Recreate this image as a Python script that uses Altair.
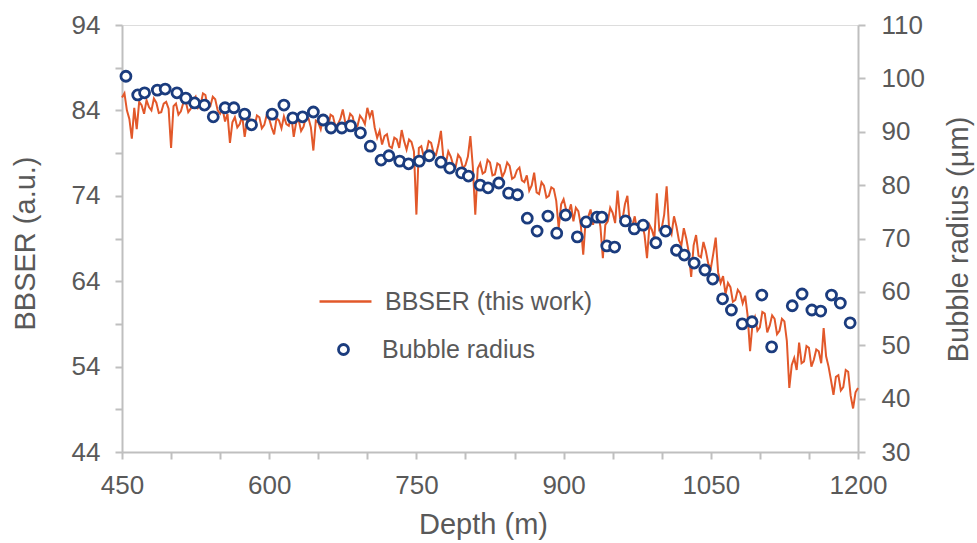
import altair as alt
import pandas as pd

# BBSER line: values every 2.5 m from 450 m to 1200 m
bbser = [
    85.5, 86.0, 84.0, 83.0, 80.7, 84.3, 81.8, 85.0, 84.6, 83.6,   # 450-472.5
    85.2, 84.4, 84.0, 85.4, 84.9, 83.7, 83.8, 84.8, 85.0, 84.2,   # 475-497.5
    79.6, 84.5, 84.8, 83.5, 83.9, 84.9, 85.0, 83.8, 84.2, 85.2,   # 500-522.5
    85.6, 84.3, 84.6, 86.0, 85.8, 84.2, 84.5, 85.6, 85.3, 84.0,   # 525-547.5
    83.6, 84.2, 82.7, 83.6, 80.2, 82.6, 83.2, 82.0, 82.4, 83.4,   # 550-572.5
    80.9, 82.8, 83.0, 81.8, 82.1, 83.4, 83.2, 81.9, 82.3, 83.5,   # 575-597.5
    83.0, 82.0, 81.2, 83.1, 82.8, 81.9, 83.3, 82.4, 82.2, 83.4,   # 600-622.5
    80.9, 82.6, 82.9, 81.6, 82.1, 83.3, 83.1, 82.0, 79.3, 82.8,   # 625-647.5
    82.6, 81.8, 83.2, 82.3, 82.0, 83.5, 83.3, 82.1, 82.4, 83.0,   # 650-672.5
    84.1, 82.6, 82.5, 83.6, 83.3, 82.0, 82.2, 83.4, 83.0, 82.4,   # 675-697.5
    84.3, 83.2, 84.0, 82.0, 80.8, 81.6, 80.0, 81.0, 81.2, 79.8,   # 700-722.5
    79.6, 80.8, 80.6, 79.6, 81.7, 80.4, 79.4, 80.6, 80.3, 79.2,   # 725-747.5
    71.8, 79.6, 79.8, 78.6, 79.0, 80.4, 80.2, 79.0, 78.8, 80.0,   # 750-772.5
    81.6, 78.4, 77.8, 79.2, 78.6, 77.6, 77.4, 78.8, 78.4, 77.2,   # 775-797.5
    77.6, 78.6, 81.0, 77.4, 71.8, 77.2, 77.8, 76.6, 76.8, 78.2,   # 800-822.5
    77.9, 76.4, 76.5, 77.8, 77.6, 76.2, 76.8, 77.9, 77.5, 76.0,   # 825-847.5
    76.2, 77.0, 77.3, 75.8, 75.6, 76.4, 74.6, 75.2, 76.7, 74.4,   # 850-872.5
    74.2, 75.6, 75.2, 73.8, 74.0, 75.0, 74.8, 73.4, 70.2, 73.0,   # 875-897.5
    73.6, 72.4, 72.0, 73.0, 71.0, 72.6, 72.2, 70.6, 67.1, 71.2,   # 900-922.5
    71.5, 72.4, 70.6, 71.8, 72.0, 70.4, 66.7, 70.6, 71.0, 72.6,   # 925-947.5
    72.0, 70.8, 74.6, 71.4, 71.2, 73.0, 74.0, 70.6, 70.5, 71.6,   # 950-972.5
    69.8, 71.0, 70.8, 69.4, 66.7, 70.6, 70.0, 69.0, 74.3, 70.0,   # 975-997.5
    70.2, 71.8, 75.1, 70.2, 69.5, 71.6, 70.4, 68.8, 68.2, 70.2,   # 1000-1022.5
    69.0, 67.4, 64.5, 68.2, 69.4, 67.0, 66.8, 68.6, 67.5, 66.0,   # 1025-1047.5
    65.5, 67.2, 69.1, 65.0, 63.8, 64.6, 62.5, 63.8, 63.3, 61.6,   # 1050-1072.5
    61.8, 63.0, 62.6, 61.4, 62.3, 60.0, 55.8, 59.0, 59.8, 58.2,   # 1075-1097.5
    58.6, 60.4, 60.2, 58.0, 58.8, 60.0, 59.6, 57.8, 58.2, 59.6,   # 1100-1122.5
    59.3, 57.0, 51.5, 54.2, 55.0, 53.6, 56.8, 54.4, 54.6, 56.4,   # 1125-1147.5
    56.2, 54.0, 54.8, 56.0, 55.8, 54.4, 58.5, 55.2, 54.0, 52.4,   # 1150-1172.5
    50.7, 52.8, 53.0, 51.2, 51.6, 53.6, 53.4, 50.6, 49.1, 51.0,   # 1175-1197.5
    51.5,                                                         # 1200
]
depth_line = [450 + 2.5 * i for i in range(len(bbser))]

# Bubble radius points
bubble_depth = [
    454, 466, 473, 486, 494, 506, 515, 524, 534, 543,
    555, 564, 575, 582, 603, 615, 624, 634, 645, 655,
    663, 674, 683, 693, 703, 714, 722, 733, 742, 753,
    763, 775, 784, 796, 803, 815, 823, 834, 844, 853,
    863, 873, 884, 893, 902, 914, 923, 934, 939, 944,
    952, 963, 972, 981, 994, 1004, 1015, 1023, 1033, 1044,
    1052, 1062, 1071, 1082, 1092, 1102, 1112, 1133, 1143, 1153,
    1162, 1173, 1182, 1192,
]
bubble_radius = [
    100.4, 96.9, 97.3, 97.8, 98.0, 97.3, 96.3, 95.4, 95.0, 92.8,
    94.5, 94.5, 93.3, 91.3, 93.3, 95.0, 92.6, 92.8, 93.7, 92.2,
    90.7, 90.7, 91.1, 89.8, 87.3, 84.7, 85.5, 84.5, 84.0, 84.5,
    85.5, 84.3, 83.2, 82.3, 81.7, 80.0, 79.5, 80.4, 78.5, 78.2,
    73.8, 71.4, 74.2, 71.0, 74.4, 70.3, 73.1, 74.0, 74.0, 68.6,
    68.4, 73.3, 71.8, 72.5, 69.2, 71.4, 67.8, 66.9, 65.4, 64.1,
    62.4, 58.7, 56.6, 54.0, 54.4, 59.4, 49.7, 57.4, 59.6, 56.6,
    56.4, 59.4, 57.9, 54.2,
]

ORANGE = "#E2582A"
NAVY = "#1B3C7E"
GREY = "#BFBFBF"
TXT = "#595959"
FONT = "Liberation Sans"

line_df = pd.DataFrame({"depth": depth_line, "bbser": bbser, "s1": "BBSER (this work)"})
pts_df = pd.DataFrame({"depth": bubble_depth, "radius": bubble_radius, "s2": "Bubble radius"})

axis_common = dict(
    domainColor=GREY, domainWidth=2, tickColor=GREY, tickWidth=2, tickSize=7,
    grid=False, labelColor=TXT, labelFontSize=26, labelFont=FONT, labelFlush=False,
    titleColor=TXT, titleFontSize=29, titleFont=FONT, titleFontWeight="normal",
    titleAlign="center", titleBaseline="middle",
)

x_enc = alt.X(
    "depth:Q",
    scale=alt.Scale(domain=[450, 1200], nice=False, zero=False),
    axis=alt.Axis(
        values=list(range(450, 1201, 50)), format="d",
        labelExpr="datum.value % 150 == 0 ? datum.label : ''",
        labelOverlap=False, labelPadding=13,
        title="Depth (m)", titleX=361, titleY=72, **axis_common,
    ),
)

line = alt.Chart(line_df).mark_line(strokeWidth=2).encode(
    x=x_enc,
    y=alt.Y(
        "bbser:Q",
        scale=alt.Scale(domain=[44, 94], nice=False, zero=False),
        axis=alt.Axis(
            orient="left", values=list(range(44, 95, 5)),
            labelExpr="(datum.value - 44) % 10 == 0 ? datum.label : ''",
            labelPadding=15,
            title="BBSER (a.u.)", titleAngle=270, titleX=-97, titleY=218, **axis_common,
        ),
    ),
    color=alt.Color(
        "s1:N",
        scale=alt.Scale(domain=["BBSER (this work)"], range=[ORANGE]),
        legend=alt.Legend(
            orient="none", legendX=196, legendY=249, title=None,
            symbolType="stroke", symbolSize=2700, symbolStrokeWidth=2.5,
            labelFontSize=25, labelColor=TXT, labelFont=FONT, labelOffset=12,
            labelLimit=500,
        ),
    ),
)

points = alt.Chart(pts_df).mark_point(
    filled=False, fill="white", strokeWidth=2.8, size=100, opacity=1, fillOpacity=1
).encode(
    x=alt.X("depth:Q"),
    y=alt.Y(
        "radius:Q",
        scale=alt.Scale(domain=[30, 110], nice=False, zero=False),
        axis=alt.Axis(
            orient="right", values=list(range(30, 111, 10)), labelPadding=16,
            title="Bubble radius (µm)", titleAngle=270, titleX=100, titleY=214,
            **axis_common,
        ),
    ),
    stroke=alt.Stroke(
        "s2:N",
        scale=alt.Scale(domain=["Bubble radius"], range=[NAVY]),
        legend=alt.Legend(
            orient="none", legendX=209, legendY=312, title=None,
            symbolType="circle", symbolSize=100, symbolFillColor="white",
            symbolStrokeWidth=2.8, symbolOpacity=1,
            labelFontSize=25, labelColor=TXT, labelFont=FONT,
            labelOffset=26, labelLimit=500,
        ),
    ),
)

chart = (
    alt.layer(line, points)
    .resolve_scale(y="independent", color="independent", stroke="independent")
    .properties(
        width=736, height=427,
        padding={"left": 122, "top": 25, "right": 119, "bottom": 91},
        autosize=alt.AutoSizeParams(type="none"),
    )
    .configure_view(stroke=None)
    .configure(font=FONT)
)

chart.save("out.html", embed_options={"renderer": "svg", "actions": False})
